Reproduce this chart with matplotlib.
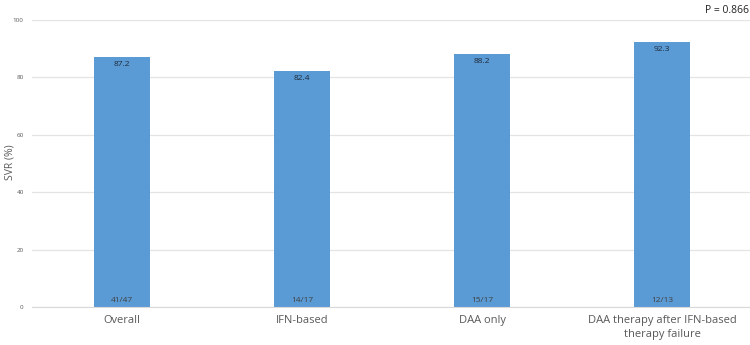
import matplotlib
matplotlib.use("Agg")
import matplotlib.pyplot as plt

categories = ["Overall", "IFN-based", "DAA only", "DAA therapy after IFN-based\ntherapy failure"]
svr = [87.2, 82.4, 88.2, 92.3]
counts = ["41/47", "14/17", "15/17", "12/13"]
yticks = [0, 20, 40, 60, 80, 100]

plt.rcParams['font.family'] = ['Open Sans', 'DejaVu Sans']

fig = plt.figure(figsize=(7.5, 3.45), dpi=100)
ax = fig.add_axes([0.0427, 0.110, 0.96, 0.832])

x = list(range(len(categories)))
ax.bar(x, svr, width=0.31, color="#5B9BD5", zorder=3)
for xi, v, c in zip(x, svr, counts):
    ax.text(xi, v - 1.5, f"{v}", ha="center", va="top", fontsize=6, color="#1f2a3a", zorder=4)
    ax.text(xi, 1.2, c, ha="center", va="bottom", fontsize=6, color="#404040", zorder=4)

ax.set_xlim(-0.5, len(categories) - 0.5)
ax.set_ylim(0, 100)
ax.set_yticks(yticks)
ax.set_xticks(x)
ax.set_xticklabels(categories, fontsize=8, color="#595959", linespacing=1.3)
ax.tick_params(axis="y", labelsize=4.5, labelcolor="#595959", length=0, pad=6)
ax.tick_params(axis="x", length=0, pad=6)
ax.grid(axis="y", color="#E4E4E4", linewidth=0.9, zorder=0)
for s in ["top", "right", "left"]:
    ax.spines[s].set_visible(False)
ax.spines["bottom"].set_color("#D9D9D9")
ax.spines["bottom"].set_zorder(5)

fig.text(0.0135, 1 - 162 / 345, "SVR (%)", rotation=90, ha="center", va="center",
         fontsize=7.5, color="#595959")

fig.text(0.94, 0.985, "P = 0.866", ha="left", va="top", fontsize=7.5, color="#222222")

fig.savefig("out.png", dpi=100)
